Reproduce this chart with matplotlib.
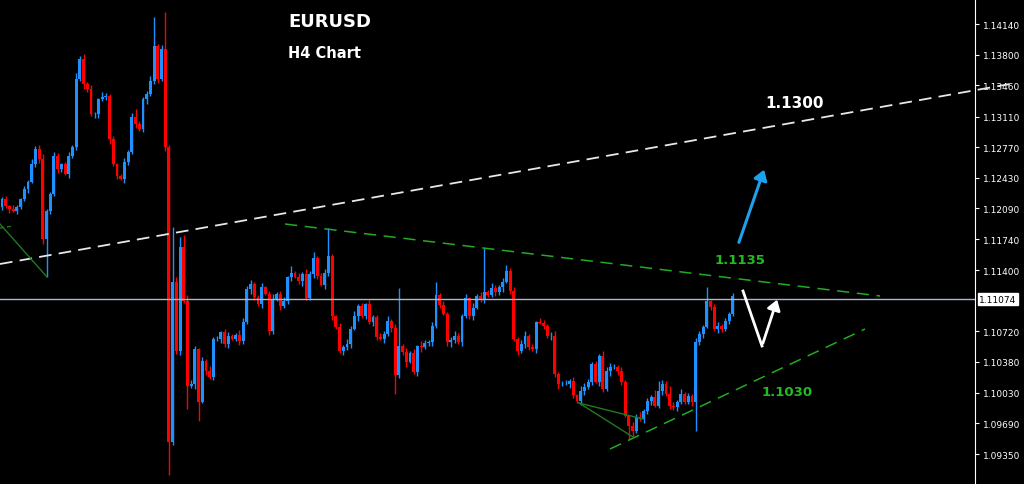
import matplotlib
matplotlib.use("Agg")
import matplotlib.pyplot as plt
from matplotlib.lines import Line2D

closes = [1.12191,1.12113,1.12080,1.12057,1.12102,1.12191,1.12302,1.12380,1.12581,1.12748,
1.12637,1.11745,1.12057,1.12247,1.12670,1.12525,1.12581,1.12469,1.12670,1.12770,
1.13528,1.13751,1.13472,1.13416,1.13138,1.13138,1.13305,1.13327,1.13338,1.12859,
1.12581,1.12447,1.12414,1.12603,1.12715,1.13104,1.13026,1.12971,1.13305,1.13361,
1.13506,1.13895,1.13528,1.13862,1.12770,1.09484,1.11266,1.10498,1.11656,1.11055,
1.10108,1.10130,1.10520,1.09930,1.10386,1.10275,1.10208,1.10631,1.10631,1.10709,
1.10576,1.10665,1.10631,1.10676,1.10609,1.10821,1.11188,1.11244,1.11099,1.11021,
1.11211,1.11133,1.10721,1.11077,1.11133,1.10999,1.11055,1.11322,1.11367,1.11322,
1.11278,1.11355,1.11088,1.11355,1.11534,1.11333,1.11233,1.11367,1.11556,1.10888,
1.10765,1.10498,1.10542,1.10576,1.10743,1.10888,1.10999,1.10888,1.11021,1.10821,
1.10876,1.10654,1.10631,1.10687,1.10832,1.10754,1.10230,1.10553,1.10487,1.10375,
1.10475,1.10264,1.10553,1.10542,1.10587,1.10598,1.10776,1.11122,1.11010,1.10910,
1.10598,1.10620,1.10665,1.10598,1.10888,1.11088,1.10888,1.10977,1.11110,1.11077,
1.11155,1.11122,1.11200,1.11155,1.11211,1.11266,1.11389,1.11166,1.10631,1.10498,
1.10576,1.10665,1.10542,1.10520,1.10821,1.10810,1.10776,1.10665,1.10665,1.10241,
1.10130,1.10130,1.10130,1.10164,1.10008,1.09941,1.10052,1.10097,1.10152,1.10353,
1.10152,1.10442,1.10074,1.10275,1.10319,1.10319,1.10275,1.10152,1.09774,1.09662,
1.09607,1.09762,1.09740,1.09829,1.09941,1.09985,1.09885,1.10052,1.10130,1.10019,
1.09885,1.09874,1.09930,1.10019,1.09930,1.09996,1.09930,1.10598,1.10687,1.10765,
1.11055,1.10988,1.10743,1.10776,1.10743,1.10832,1.10910,1.11110]
first_open = 1.12100

# wick lengths in half-pips
upper_wick = [4,6,3,8,5,3,7,4,10,6,9,
12,5,4,8,6,3,5,9,4,14,6,
10,4,8,5,3,12,6,4,7,3,5,
8,4,9,18,6,4,7,10,5,4,
8,6,5,9,12,6,5,14,10,6,
3,8,4,12,5,7,3,6,9,4,
5,12,8,6,10,4,5,9,3,7,
12,4,6,8,3,15,5,8,4,12,
6,7,4,6,9,8,5,3,8,4,
10,6,12,4,7,3,9,5,4,8,
6,12,5,9,7,4,9,5,8,3,
12,6,4,10,9,5,8,4,6,12,
7,5,9,3,10,4,8,8,5,12,
6,4,9,14,6,10,5,8,12,4,
6,3,9,7,5,8,11,4,6,10,
5,8,3,12,9,6,4,7,5,12,
8,10,6,4,9,5,3,8,6,12,
4,7,5,16,22,10,6,17,8,5,10,5,
6,4,9,7,5,8,3,6,10,4,7,5,6]
lower_wick = [6,4,8,3,7,5,4,9,3,6,8,
10,5,7,4,9,6,3,8,5,7,4,
12,6,5,8,9,4,6,10,5,7,3,
8,6,4,9,5,7,12,4,6,8,
5,9,3,7,6,10,5,8,4,12,
6,3,9,5,7,4,8,6,10,3,
5,9,6,4,12,7,5,8,3,10,
6,4,9,5,7,8,3,6,12,5,
4,9,7,3,8,6,10,5,4,9,
6,8,3,12,5,7,4,10,6,3,
8,5,9,4,7,6,12,3,5,8,
10,4,6,9,5,7,3,8,12,6,
4,9,5,7,10,3,6,8,5,4,
9,6,12,3,7,5,8,4,10,6,
5,9,3,7,4,8,6,12,5,3,
9,6,4,8,10,5,7,3,9,6,
4,12,5,8,6,3,9,7,5,4,
10,6,8,3,5,9,4,7,6,8,5,4,
5,8,4,6,9,3,7,5,8,6,4,7,5]
spike_highs = {20:1.13583, 35:1.12915, 41:1.14218, 44:1.14274, 46:1.11879, 48:1.11768,
               49:1.11790, 84:1.11601, 88:1.11868, 107:1.11200, 117:1.11266,
               130:1.11645, 190:1.11211}
spike_lows = {12:1.11322, 45:1.09116, 50:1.09852, 53:1.09718, 106:1.10019,
              169:1.09517, 170:1.09540, 187:1.09607}

price_ticks = [1.14140,1.13800,1.13460,1.13110,1.12770,1.12430,1.12090,1.11740,
               1.11400,1.10720,1.10380,1.10030,1.09690,1.09350]
current_price = 1.11074

BULL = "#1e90ff"; BEAR = "#ff0000"
W, H = 1024, 485
fig = plt.figure(figsize=(W/100, H/100), dpi=100, facecolor="black")
ax = fig.add_axes([0, 0, 975/W, 1])
ax.set_facecolor("black")

opens = [first_open] + closes[:-1]
for i, (o, c) in enumerate(zip(opens, closes)):
    col = BULL if c >= o else BEAR
    hi = max(o, c) + upper_wick[i] * 5e-5
    lo = min(o, c) - lower_wick[i] * 5e-5
    hi = max(hi, spike_highs.get(i, hi))
    lo = min(lo, spike_lows.get(i, lo))
    ax.vlines(i, lo, hi, color=col, lw=1)
    ax.bar(i, max(abs(c - o), 0.00003), bottom=min(o, c), width=0.78, color=col, lw=0)

ax.set_xlim(-0.54, 262.3)
ax.set_ylim(1.09016, 1.14419)
ax.axhline(current_price, color="#a8b8d0", lw=1)

ax.yaxis.tick_right()
ax.set_yticks(price_ticks)
ax.set_yticklabels([f"{p:.5f}" for p in price_ticks])
ax.tick_params(axis="y", colors="white", labelsize=6.5, length=3, pad=3)
ax.set_xticks([])
for s in ["top", "bottom", "left"]:
    ax.spines[s].set_visible(False)
ax.spines["right"].set_color("white")
ax.text(1.004, current_price, f"{current_price:.5f}", transform=ax.get_yaxis_transform(),
        va="center", ha="left", fontsize=6.5, color="black",
        bbox=dict(boxstyle="square,pad=0.15", fc="white", ec="white"), clip_on=False)

def F(x, y):
    return (x / W, 1 - y / H)

def fline(pts, **kw):
    xs = [p[0] / W for p in pts]; ys = [1 - p[1] / H for p in pts]
    fig.add_artist(Line2D(xs, ys, transform=fig.transFigure, **kw))

fline([(0, 265), (1010, 85)], color="#e8e8e8", lw=1.3, dashes=(7, 4))
fline([(285, 225), (880, 297)], color="#22aa22", lw=1.1, dashes=(8, 5))
fline([(610, 450), (865, 330)], color="#22aa22", lw=1.1, dashes=(8, 5))
fline([(0, 225), (47, 278)], color="#1f7a1f", lw=1)
fline([(0, 229), (13, 227)], color="#1f7a1f", lw=1, dashes=(3, 2))
fline([(579, 404), (633, 438)], color="#1f7a1f", lw=1)
fline([(579, 404), (643, 420)], color="#1f7a1f", lw=1)

fig.text(*F(330, 22), "EURUSD", color="white", fontsize=13, fontweight="bold", ha="center", va="center")
fig.text(*F(325, 53), "H4 Chart", color="white", fontsize=10.5, fontweight="bold", ha="center", va="center")
fig.text(*F(795, 103), "1.1300", color="white", fontsize=11, fontweight="bold", ha="center", va="center")
fig.text(*F(740, 260), "1.1135", color="#22bb22", fontsize=9.5, fontweight="bold", ha="center", va="center")
fig.text(*F(787, 393), "1.1030", color="#22bb22", fontsize=9.5, fontweight="bold", ha="center", va="center")

fig.add_artist(matplotlib.patches.FancyArrowPatch(F(738, 246), F(765, 168), transform=fig.transFigure,
               arrowstyle="-|>,head_length=6,head_width=4", color="#1ea0ee", lw=2.2))
fline([(743, 292), (762, 347)], color="white", lw=2)
fig.add_artist(matplotlib.patches.FancyArrowPatch(F(762, 347), F(778, 298), transform=fig.transFigure,
               arrowstyle="-|>,head_length=6,head_width=4", color="white", lw=2))

fig.savefig("out.png", dpi=100, facecolor="black")
